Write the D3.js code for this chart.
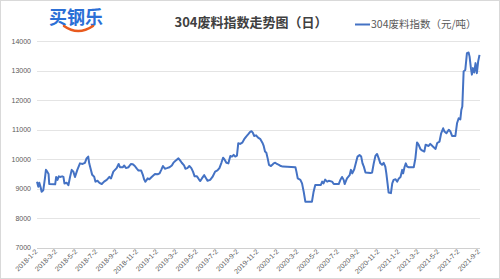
<!DOCTYPE html>
<html>
<head>
<meta charset="utf-8">
<script src="https://cdn.jsdelivr.net/npm/d3@7"></script>
<style>
  body { margin: 0; background: #fff; }
  svg { display: block; font-family: "Microsoft YaHei", "Noto Sans CJK SC", sans-serif; }
</style>
</head>
<body>
<svg width="500" height="279"></svg>
<script>
// daily scrap index
const dates = [
  "2018-01-02","2018-01-06","2018-01-09","2018-01-13","2018-01-16","2018-01-21","2018-01-26","2018-01-29",
  "2018-02-02","2018-02-06","2018-02-08","2018-02-26","2018-03-01","2018-03-05","2018-03-09","2018-03-13",
  "2018-03-19","2018-03-23","2018-03-26","2018-04-02","2018-04-07","2018-04-12","2018-04-17","2018-04-22",
  "2018-04-27","2018-05-04","2018-05-12","2018-05-20","2018-05-27","2018-06-01","2018-06-06","2018-06-09",
  "2018-06-14","2018-06-18","2018-06-24","2018-06-28","2018-07-04","2018-07-10","2018-07-17","2018-07-24",
  "2018-08-01","2018-08-09","2018-08-14","2018-08-21","2018-08-31","2018-09-06","2018-09-10","2018-09-19",
  "2018-09-23","2018-09-28","2018-10-06","2018-10-13","2018-10-19","2018-10-25","2018-10-31","2018-11-05",
  "2018-11-13","2018-11-18","2018-11-22","2018-11-26","2018-11-30","2018-12-03","2018-12-08","2018-12-15",
  "2018-12-25","2019-01-02","2019-01-08","2019-01-13","2019-01-18","2019-01-24","2019-01-30","2019-02-07",
  "2019-02-14","2019-02-19","2019-02-26","2019-03-06","2019-03-11","2019-03-16","2019-03-23","2019-03-27",
  "2019-04-02","2019-04-08","2019-04-14","2019-04-19","2019-04-24","2019-05-01","2019-05-07","2019-05-11",
  "2019-05-16","2019-05-23","2019-05-29","2019-06-02","2019-06-10","2019-06-17","2019-06-25","2019-07-02",
  "2019-07-08","2019-07-14","2019-07-19","2019-07-23","2019-07-29","2019-08-04","2019-08-10","2019-08-15",
  "2019-08-20","2019-08-25","2019-08-30","2019-09-03","2019-09-09","2019-09-15","2019-09-21","2019-09-27",
  "2019-10-04","2019-10-09","2019-10-13","2019-10-17","2019-10-21","2019-10-27","2019-11-02","2019-11-09",
  "2019-11-15","2019-11-19","2019-11-23","2019-11-27","2019-12-01","2019-12-05","2019-12-11","2019-12-15",
  "2019-12-19","2019-12-24","2019-12-29","2020-01-04","2020-01-10","2020-01-16","2020-02-23","2020-02-26",
  "2020-03-01","2020-03-09","2020-03-14","2020-03-19","2020-03-24","2020-04-13","2020-04-18","2020-04-23",
  "2020-05-10","2020-05-14","2020-05-18","2020-05-23","2020-05-29","2020-06-03","2020-06-13","2020-06-18",
  "2020-07-03","2020-07-08","2020-07-13","2020-07-18","2020-07-21","2020-07-28","2020-08-05","2020-08-09",
  "2020-08-13","2020-08-19","2020-08-25","2020-08-29","2020-09-04","2020-09-09","2020-09-13","2020-09-17",
  "2020-09-22","2020-10-07","2020-10-12","2020-10-17","2020-10-22","2020-10-27","2020-11-01","2020-11-06",
  "2020-11-11","2020-11-16","2020-11-21","2020-11-24","2020-11-28","2020-12-01","2020-12-08","2020-12-12",
  "2020-12-16","2020-12-22","2020-12-27","2021-01-01","2021-01-06","2021-01-11","2021-01-14","2021-01-18",
  "2021-01-22","2021-01-26","2021-01-31","2021-02-15","2021-02-20","2021-02-25","2021-03-02","2021-03-07",
  "2021-03-12","2021-03-19","2021-03-23","2021-04-01","2021-04-06","2021-04-14","2021-04-22","2021-04-27",
  "2021-05-04","2021-05-09","2021-05-15","2021-05-19","2021-05-25","2021-06-01","2021-06-06","2021-06-11",
  "2021-06-21","2021-06-26","2021-07-01","2021-07-06","2021-07-09","2021-07-12","2021-07-16","2021-07-21",
  "2021-07-26","2021-07-31","2021-08-03","2021-08-07","2021-08-10","2021-08-13","2021-08-17","2021-08-21",
  "2021-08-25","2021-08-29","2021-09-02"
];
const values = [
  9240,9070,9200,9050,8900,8950,9350,9640,
  9580,9500,9160,9150,9400,9300,9420,9400,
  9420,9400,9180,9200,9120,9400,9640,9580,
  9400,9640,9860,9840,9880,10030,10090,9860,
  9640,9470,9410,9240,9270,9200,9160,9240,
  9300,9400,9350,9580,9700,9840,9730,9730,
  9790,9700,9730,9840,9830,9770,9680,9620,
  9620,9480,9320,9240,9300,9350,9320,9400,
  9500,9490,9520,9640,9770,9680,9700,9730,
  9790,9885,9960,10030,9960,9880,9790,9680,
  9700,9770,9700,9580,9420,9420,9320,9260,
  9350,9460,9350,9270,9300,9400,9580,9620,
  9700,9880,10050,10000,9880,9860,10110,10090,
  10150,10090,10120,10540,10520,10560,10680,10770,
  10860,10930,10950,10900,10790,10810,10730,10680,
  10560,10450,10260,10220,10030,9810,9770,9810,
  9860,9880,9840,9810,9770,9750,9730,9580,
  9350,9300,9180,8900,8560,8560,8900,9130,
  9130,9240,9180,9310,9240,9270,9240,9160,
  9160,9300,9400,9300,9160,9350,9460,9640,
  9520,9660,9920,10090,10140,10090,9860,9750,
  9550,9530,9550,9860,10110,10180,10030,9860,
  9810,9880,9750,9530,9160,8870,8850,9180,
  9300,9320,9240,9350,9400,9640,9520,9730,
  9860,9750,9730,9730,10030,10570,10490,10350,
  10300,10260,10490,10450,10520,10430,10350,10550,
  10600,10880,11050,10940,10880,11000,10940,10790,
  10790,11220,11390,11350,11670,11790,12980,13030,
  13600,13620,13480,13090,12870,13090,12940,13260,
  12920,13320,13540
];
const yTicks = [7000, 8000, 9000, 10000, 11000, 12000, 13000, 14000];
const xTickLabels = [
  "2018-1-2","2018-3-2","2018-5-2","2018-7-2","2018-9-2","2018-11-2",
  "2019-1-2","2019-3-2","2019-5-2","2019-7-2","2019-9-2","2019-11-2",
  "2020-1-2","2020-3-2","2020-5-2","2020-7-2","2020-9-2","2020-11-2",
  "2021-1-2","2021-3-2","2021-5-2","2021-7-2","2021-9-2"
];
const seriesName = "304废料指数（元/吨）";
const title = "304废料指数走势图（日）";

const parse = d3.timeParse("%Y-%m-%d");
const parseTick = d3.timeParse("%Y-%-m-%-d");
const data = dates.map((d, i) => ({ date: parse(d), value: values[i] }));

const svg = d3.select("svg");

// chart border
svg.append("rect")
  .attr("x", 0.5).attr("y", 0.5)
  .attr("width", 499).attr("height", 278)
  .attr("fill", "#fff")
  .attr("stroke", "#d9d9d9");

const x = d3.scaleTime()
  .domain([parseTick(xTickLabels[0]), parseTick(xTickLabels[xTickLabels.length - 1])])
  .range([37, 479.5]);

const y = d3.scaleLinear()
  .domain([7000, 14000])
  .range([247.7, 41.3]);

// gridlines
svg.append("g")
  .selectAll("line")
  .data(yTicks)
  .enter()
  .append("line")
  .attr("x1", 37).attr("x2", 480)
  .attr("y1", d => Math.round(y(d)) + 0.5)
  .attr("y2", d => Math.round(y(d)) + 0.5)
  .attr("stroke", d => d == 7000 ? "#d0d0d0" : "#e4e4e4")
  .attr("stroke-width", 1);

// y labels
svg.append("g")
  .selectAll("text")
  .data(yTicks)
  .enter()
  .append("text")
  .attr("x", 31)
  .attr("y", d => y(d) + 2.5)
  .attr("text-anchor", "end")
  .attr("font-size", "7px")
  .attr("font-family", "Liberation Sans, Arial, sans-serif")
  .attr("fill", "#595959")
  .text(d => d);

// x labels, rotated
svg.append("g")
  .selectAll("text")
  .data(xTickLabels)
  .enter()
  .append("text")
  .attr("transform", d => "translate(" + (x(parseTick(d)) + 1) + ",252) rotate(-45)")
  .attr("text-anchor", "end")
  .attr("font-size", "7px")
  .attr("font-family", "Liberation Sans, Arial, sans-serif")
  .attr("fill", "#595959")
  .text(d => d);

// the line
const line = d3.line()
  .x(d => x(d.date))
  .y(d => y(d.value));

svg.append("path")
  .datum(data)
  .attr("fill", "none")
  .attr("stroke", "#4472c4")
  .attr("stroke-width", 2)
  .attr("stroke-linejoin", "round")
  .attr("d", line);

// title
svg.append("text")
  .attr("x", 251).attr("y", 27)
  .attr("text-anchor", "middle")
  .attr("font-size", "13px")
  .attr("font-weight", "bold")
  .attr("fill", "#404040")
  .text(title);

// legend
svg.append("line")
  .attr("x1", 355).attr("x2", 370)
  .attr("y1", 24.5).attr("y2", 24.5)
  .attr("stroke", "#4472c4")
  .attr("stroke-width", 2);

svg.append("text")
  .attr("x", 371).attr("y", 28)
  .attr("font-size", "10.5px")
  .attr("fill", "#595959")
  .text(seriesName);

// logo
svg.append("text")
  .attr("x", 49).attr("y", 24)
  .attr("font-size", "18px")
  .attr("font-weight", "bold")
  .attr("fill", "#2b6fd6")
  .text("买钢乐");

svg.append("path")
  .attr("d", "M64,26 Q78,36 93,26")
  .attr("fill", "none")
  .attr("stroke", "#e85a1e")
  .attr("stroke-width", 2.5)
  .attr("stroke-linecap", "round");
</script>
</body>
</html>
